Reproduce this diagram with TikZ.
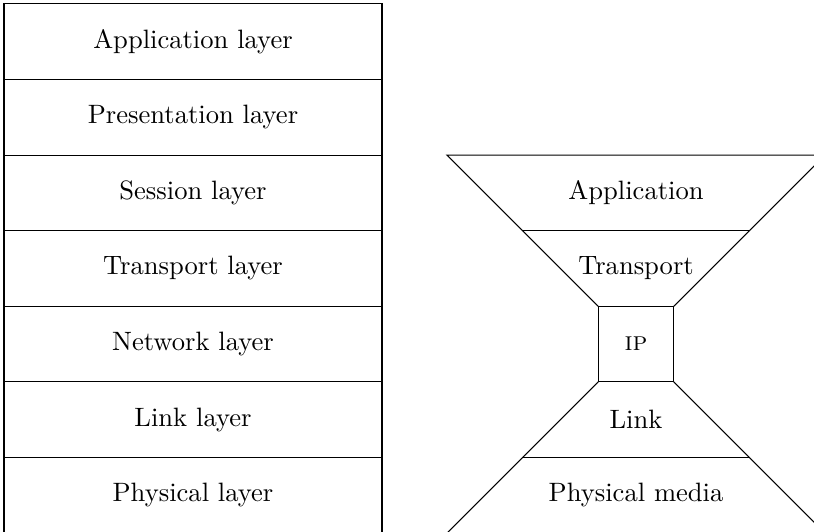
\documentclass[tikz,border=0pt]{standalone}
\usetikzlibrary{calc}
\begin{document}
\begin{tikzpicture}[
  layerbox/.style={draw, minimum width=5cm, minimum height=1cm, inner sep=0pt, outer sep=0pt, anchor=north west},
  ipbox/.style={draw, minimum width=1cm, minimum height=1cm, inner sep=0pt, outer sep=0pt},
  lbl/.style={inner sep=0pt}
]
\useasboundingbox (-0.053,0.051) rectangle (10.714,-6.986);
% left stack
\node[layerbox] (l1) at (0,0) {Application layer};
\node[layerbox] (l2) at (l1.south west) {Presentation layer};
\node[layerbox] (l3) at (l2.south west) {Session layer};
\node[layerbox] (l4) at (l3.south west) {Transport layer};
\node[layerbox] (l5) at (l4.south west) {Network layer};
\node[layerbox] (l6) at (l5.south west) {Link layer};
\node[layerbox] (l7) at (l6.south west) {Physical layer};
% hourglass
\node[ipbox] (ip) at (8.36,-4.5) {\textsc{ip}};
\coordinate (tl) at ($(ip.north west)+(-2,2)$);
\coordinate (tr) at ($(ip.north east)+(2,2)$);
\coordinate (al) at ($(ip.north west)+(-1,1)$);
\coordinate (ar) at ($(ip.north east)+(1,1)$);
\coordinate (bl) at ($(ip.south west)+(-2,-2)$);
\coordinate (br) at ($(ip.south east)+(2,-2)$);
\coordinate (kl) at ($(ip.south west)+(-1,-1)$);
\coordinate (kr) at ($(ip.south east)+(1,-1)$);
\draw (ip.north west) -- (tl) -- (tr) -- (ip.north east);
\draw (al) -- (ar);
\draw (ip.south west) -- (bl) -- (br) -- (ip.south east);
\draw (kl) -- (kr);
\node[lbl] (happ) at (8.36,-2.5) {Application};
\node[lbl] (htr) at (8.36,-3.5) {Transport};
\node[lbl] (hlk) at (8.36,-5.5) {Link};
\node[lbl] (hph) at (8.36,-6.5) {Physical media};
\end{tikzpicture}
\end{document}
